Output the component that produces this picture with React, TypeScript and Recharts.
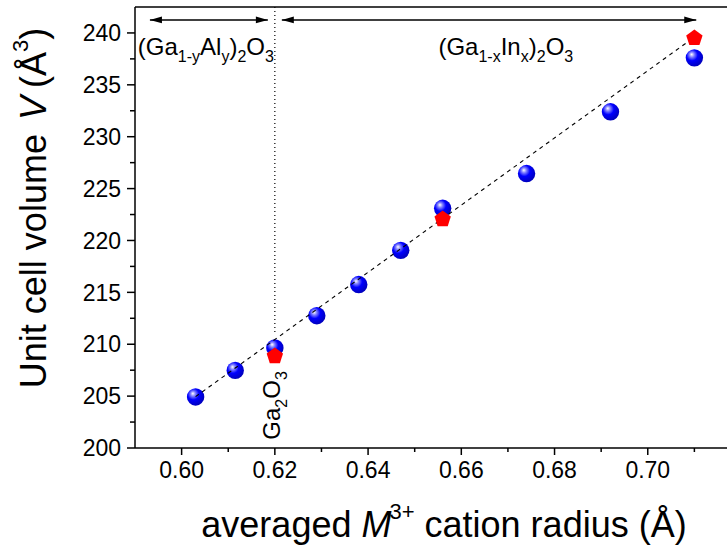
import React from 'react';
import { ScatterChart, Scatter, XAxis, YAxis, ReferenceLine, ReferenceDot, Label } from 'recharts';

const FONT = "'Liberation Sans', Arial, Helvetica, sans-serif";

// measured unit cell volumes (blue spheres)
const radiusX = [0.603, 0.6115, 0.62, 0.629, 0.638, 0.647, 0.656, 0.674, 0.692, 0.71];
const volumeY = [204.92, 207.48, 209.64, 212.75, 215.75, 219.05, 223.1, 226.45, 232.4, 237.6];

// calculated volumes (red pentagons)
const calcX = [0.62, 0.656, 0.71];
const calcY = [208.85, 222.05, 239.5];

// dashed guide line
const fitX = [0.603, 0.71];
const fitY = [204.95, 239.6];

// composition range arrows
const alArrowX = [0.5932, 0.6185];
const inArrowX = [0.6215, 0.7104];
const arrowY = 241.25;

// vertical dotted marker for Ga2O3
const ga2o3X = 0.62;
const dottedY = [242.5, 211.1];

const xTicks = [0.6, 0.61, 0.62, 0.63, 0.64, 0.65, 0.66, 0.67, 0.68, 0.69, 0.7, 0.71];
const yTicks = [200, 202.5, 205, 207.5, 210, 212.5, 215, 217.5, 220, 222.5, 225, 227.5, 230, 232.5, 235, 237.5, 240];

const X_TICK = 7;
const X_MARGIN = 7;
const Y_TICK = 8;
const Y_MARGIN = 6;

const zip = (xs: number[], ys: number[]) => xs.map((x, i) => ({ x, y: ys[i] }));

const measured = zip(radiusX, volumeY);
const calculated = zip(calcX, calcY);
const fitLine = zip(fitX, fitY);
const alArrow = alArrowX.map(x => ({ x, y: arrowY }));
const inArrow = inArrowX.map(x => ({ x, y: arrowY }));
const dotted = dottedY.map(y => ({ x: ga2o3X, y }));

const Sphere = (p: any) => {
  const id = `sph${Math.round(p.cx)}_${Math.round(p.cy)}`;
  return (
    <g>
      <defs>
        <radialGradient id={id} cx="0.4" cy="0.38" r="0.65" fx="0.34" fy="0.3">
          <stop offset="0" stopColor="#ffffff" />
          <stop offset="0.22" stopColor="#8080ff" />
          <stop offset="0.5" stopColor="#0000ff" />
          <stop offset="1" stopColor="#0000b8" />
        </radialGradient>
      </defs>
      <circle cx={p.cx} cy={p.cy} r={8.7} fill={`url(#${id})`} />
    </g>
  );
};

const Pentagon = (p: any) => {
  const R = 8.6;
  const pts = [0, 1, 2, 3, 4]
    .map(i => {
      const a = -Math.PI / 2 + (i * 2 * Math.PI) / 5;
      return `${p.cx + R * Math.cos(a)},${p.cy + R * Math.sin(a)}`;
    })
    .join(' ');
  return <polygon points={pts} fill="#ff0000" />;
};

const makeArrowHead = (xs: number[]) => (p: any) => {
  const left = p.payload.x === Math.min(...xs);
  const d = left ? 1 : -1;
  const L = 12;
  const W = 3.4;
  return (
    <polygon
      points={`${p.cx},${p.cy} ${p.cx + d * L},${p.cy - W} ${p.cx + d * L},${p.cy + W}`}
      fill="#000"
    />
  );
};

const NoDot = () => <g />;

const XTick = (p: any) => {
  const v = p.payload.value;
  const major = Math.round(v * 100) % 2 === 0;
  const axisY = p.y - X_TICK - X_MARGIN;
  return (
    <g>
      <line x1={p.x} x2={p.x} y1={axisY} y2={axisY + (major ? X_TICK : 4)} stroke="#000" strokeWidth={1.5} />
      {major && (
        <text x={p.x} y={p.y} dy="0.71em" textAnchor="middle" fontSize={23} fontFamily={FONT} fill="#000">
          {v.toFixed(2)}
        </text>
      )}
    </g>
  );
};

const YTick = (p: any) => {
  const v = p.payload.value;
  const major = v % 5 === 0;
  const axisX = p.x + Y_TICK + Y_MARGIN;
  return (
    <g>
      <line x1={axisX} x2={axisX - (major ? Y_TICK : 5)} y1={p.y} y2={p.y} stroke="#000" strokeWidth={1.5} />
      {major && (
        <text x={p.x} y={p.y} dy="0.355em" textAnchor="end" fontSize={23} fontFamily={FONT} fill="#000">
          {v}
        </text>
      )}
    </g>
  );
};

// formula text: [text, isSubscript]
type Part = [string, boolean];
const Formula = ({ x, y, parts, rotate }: { x: number; y: number; parts: Part[]; rotate?: boolean }) => {
  let prev = 0;
  return (
    <text
      x={x}
      y={y}
      fontSize={24}
      fontFamily={FONT}
      fill="#000"
      transform={rotate ? `rotate(-90, ${x}, ${y})` : undefined}
    >
      {parts.map(([t, sub], i) => {
        const off = sub ? 7 : 0;
        const dy = off - prev;
        prev = off;
        return (
          <tspan key={i} dy={dy} fontSize={sub ? 16 : 24}>
            {t}
          </tspan>
        );
      })}
    </text>
  );
};

const alParts: Part[] = [['(Ga', false], ['1-y', true], ['Al', false], ['y', true], [')', false], ['2', true], ['O', false], ['3', true]];
const inParts: Part[] = [['(Ga', false], ['1-x', true], ['In', false], ['x', true], [')', false], ['2', true], ['O', false], ['3', true]];
const gaParts: Part[] = [['Ga', false], ['2', true], ['O', false], ['3', true]];

export default function App() {
  return (
    <div style={{ position: 'absolute', left: 0, top: 0, width: 727, height: 549, overflow: 'hidden', background: '#fff' }}>
      <ScatterChart width={741} height={549} margin={{ top: 7, right: 0, bottom: 0, left: 0 }}>
        <XAxis
          dataKey="x"
          type="number"
          domain={[0.59, 0.72]}
          ticks={xTicks}
          interval={0}
          allowDataOverflow
          height={101}
          tickSize={X_TICK}
          tickMargin={X_MARGIN}
          tickLine={false}
          tick={<XTick />}
          axisLine={{ stroke: '#000', strokeWidth: 1.5 }}
        >
          <Label
            content={() => (
              <text x={444} y={537} textAnchor="middle" fontSize={36} fontFamily={FONT} fill="#000">
                averaged <tspan fontStyle="italic">M</tspan>
                <tspan dy={-18} dx={-2} fontSize={22}>3+</tspan>
                <tspan dy={18}> cation radius (Å)</tspan>
              </text>
            )}
          />
        </XAxis>
        <YAxis
          dataKey="y"
          type="number"
          domain={[200, 242.5]}
          ticks={yTicks}
          interval={0}
          allowDataOverflow
          width={135}
          tickSize={Y_TICK}
          tickMargin={Y_MARGIN}
          tickLine={false}
          tick={<YTick />}
          axisLine={{ stroke: '#000', strokeWidth: 1.5 }}
        >
          <Label
            content={() => (
              <text
                x={46}
                y={208}
                textAnchor="middle"
                fontSize={36}
                fontFamily={FONT}
                fill="#000"
                transform="rotate(-90, 46, 208)"
              >
                Unit cell volume<tspan dx={14} fontStyle="italic">V</tspan>
                <tspan dx={8}>(Å</tspan>
                <tspan dy={-18} fontSize={22}>3</tspan>
                <tspan dy={18}>)</tspan>
              </text>
            )}
          />
        </YAxis>
        <ReferenceLine y={242.5} stroke="#000" strokeWidth={1.5} />
        <Scatter data={dotted} isAnimationActive={false} shape={NoDot} line={{ stroke: '#000', strokeWidth: 1.2, strokeDasharray: '1 3' }} />
        <Scatter data={alArrow} isAnimationActive={false} shape={makeArrowHead(alArrowX)} line={{ stroke: '#000', strokeWidth: 1.4 }} />
        <Scatter data={inArrow} isAnimationActive={false} shape={makeArrowHead(inArrowX)} line={{ stroke: '#000', strokeWidth: 1.4 }} />
        <Scatter data={measured} isAnimationActive={false} shape={Sphere} />
        <Scatter data={fitLine} isAnimationActive={false} shape={NoDot} line={{ stroke: '#000', strokeWidth: 1.1, strokeDasharray: '4 4' }} />
        <Scatter data={calculated} isAnimationActive={false} shape={Pentagon} />
        <ReferenceDot x={0.5906} y={237.9} shape={(p: any) => <Formula x={p.cx} y={p.cy} parts={alParts} />} />
        <ReferenceDot x={0.6551} y={237.9} shape={(p: any) => <Formula x={p.cx} y={p.cy} parts={inParts} />} />
        <ReferenceDot x={0.6211} y={200.8} shape={(p: any) => <Formula x={p.cx} y={p.cy} parts={gaParts} rotate />} />
      </ScatterChart>
    </div>
  );
}
